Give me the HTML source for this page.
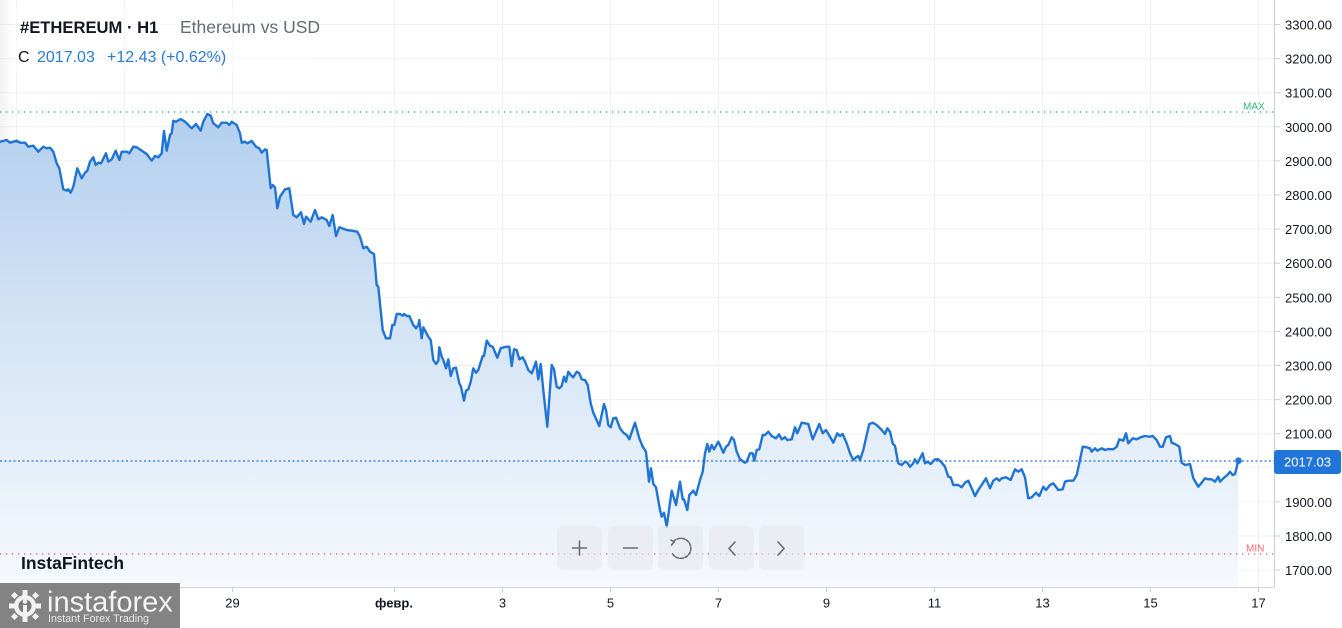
<!DOCTYPE html>
<html><head><meta charset="utf-8"><style>
html,body{margin:0;padding:0;background:#fff;}
svg{display:block;font-family:"Liberation Sans","DejaVu Sans",sans-serif;}
</style></head><body>
<svg width="1342" height="628" viewBox="0 0 1342 628" xmlns="http://www.w3.org/2000/svg">
<defs>
<linearGradient id="fg" x1="0" y1="114" x2="0" y2="587" gradientUnits="userSpaceOnUse">
<stop offset="0" stop-color="#b3cfee"/>
<stop offset="0.5" stop-color="#d7e6f6"/>
<stop offset="1" stop-color="#f6f9fd"/>
</linearGradient>
<linearGradient id="ls" x1="0" y1="0" x2="1" y2="0">
<stop offset="0" stop-color="#000" stop-opacity="0.05"/>
<stop offset="1" stop-color="#000" stop-opacity="0"/>
</linearGradient>
</defs>
<rect width="1342" height="628" fill="#fff"/>
<!-- horizontal grid -->
<g stroke="#eef0f4" stroke-width="1">
<line x1="0" x2="1274" y1="24.5" y2="24.5"/><line x1="0" x2="1274" y1="58.6" y2="58.6"/><line x1="0" x2="1274" y1="92.7" y2="92.7"/><line x1="0" x2="1274" y1="126.8" y2="126.8"/><line x1="0" x2="1274" y1="160.9" y2="160.9"/><line x1="0" x2="1274" y1="195" y2="195"/><line x1="0" x2="1274" y1="229.1" y2="229.1"/><line x1="0" x2="1274" y1="263.2" y2="263.2"/><line x1="0" x2="1274" y1="297.3" y2="297.3"/><line x1="0" x2="1274" y1="331.4" y2="331.4"/><line x1="0" x2="1274" y1="365.5" y2="365.5"/><line x1="0" x2="1274" y1="399.6" y2="399.6"/><line x1="0" x2="1274" y1="433.7" y2="433.7"/><line x1="0" x2="1274" y1="467.8" y2="467.8"/><line x1="0" x2="1274" y1="501.9" y2="501.9"/><line x1="0" x2="1274" y1="536" y2="536"/><line x1="0" x2="1274" y1="570.1" y2="570.1"/>
</g>
<!-- vertical grid -->
<g stroke="#eef0f4" stroke-width="1">
<line x1="16.5" x2="16.5" y1="0" y2="587"/><line x1="124.5" x2="124.5" y1="0" y2="587"/><line x1="232.5" x2="232.5" y1="0" y2="587"/><line x1="394.5" x2="394.5" y1="0" y2="587"/><line x1="502.5" x2="502.5" y1="0" y2="587"/><line x1="610.5" x2="610.5" y1="0" y2="587"/><line x1="718.5" x2="718.5" y1="0" y2="587"/><line x1="826.5" x2="826.5" y1="0" y2="587"/><line x1="934.5" x2="934.5" y1="0" y2="587"/><line x1="1042.5" x2="1042.5" y1="0" y2="587"/><line x1="1150.5" x2="1150.5" y1="0" y2="587"/><line x1="1258.5" x2="1258.5" y1="0" y2="587"/>
</g>
<rect x="0" y="0" width="14" height="587" fill="url(#ls)"/>
<!-- area fill -->
<path fill="url(#fg)" d="M0,141.7 L6.7,140 10,142.7 16.7,140.7 20,142.7 25,142.7 28.3,146.7 33.3,145.7 38.3,151.7 43.3,146.7 46.7,148.3 50,147.7 53.3,151.7 56.7,163.3 59.3,168.3 63.3,189.3 66.7,190.7 68.3,189.3 70.7,192.7 73.3,186.7 77.3,168.3 81.7,178.3 85,172.7 87.3,170.7 90,161.7 93.3,157.3 95.7,165 98.3,162.7 101,163.3 106,153.3 108.3,161.7 111.7,159.3 115.7,150.7 119.3,160 121.7,151.7 126.7,151.7 129.3,153.3 133.3,146.7 136.7,147.3 143.3,151.7 146.7,154 151.7,160.7 155,156 158.3,157.3 161.7,153.3 164,131 166.7,150.7 170,135 171.7,133.3 173.3,120.7 176,121.7 180.7,119 185,121.7 191.7,128.3 196,124 200.7,130.7 203.3,121.7 207.3,114 210.7,115.7 213.3,123.3 218.3,127.3 221.7,122.7 226.7,122.7 229.3,125 231.7,121.7 236.7,125 240,133.3 241.7,142.7 245,141.7 247.3,143.3 251.7,141 256,146.7 259.3,148.3 261.7,152.7 265,149.3 266.7,150 270.7,188.3 272.7,185 275,187.3 277.3,208.3 280,196.7 285,189.3 289.3,188.3 293.3,215 296.7,217.3 301,212.3 304,224 306,216.7 310.7,221.7 315,210 318.3,219.3 321.7,217.3 326.7,220 329.3,226 332.7,215 336,236 339.3,227.3 346.7,230 351.7,230.7 357.3,231.7 360,236.7 363.3,248.3 366.7,246.7 370,251.7 374,254 376.7,285 378.3,286.7 382.7,330 386,338.3 390,338.3 392.3,325 394.3,325 396.7,314 400,314 402.7,315.7 404,314 406.7,316 409.3,316 413.3,325 416,328.3 418.3,325 419.3,320 421.7,338.3 423.3,327.3 428.3,336.7 430.7,340 433.3,360 436,364 438.3,360.7 439.3,347.3 441.7,356.7 443.3,360 446,368.3 448.3,359.3 450.7,376 453.3,368.3 456,367.7 459.3,383.3 461,386.7 464,400.7 466,390.7 468.3,389.3 470.7,381.7 473.3,368.3 476,372.7 478.3,370 482.7,356 484,356 486.7,340.7 490,345.7 492.7,346.7 497.3,357.7 500.7,348.3 504,347.3 506.7,346.7 509.3,346.7 511.7,366 514,349.3 516.7,350 519.3,359.3 522.7,357.3 525,361.7 528.3,370 531.7,373.3 533.3,369.3 536,361.7 538.3,379.3 540.7,364 543.3,390 547.3,426.7 551.7,365 554,369.3 556.7,386.7 559.3,388.3 561.7,386 564,376.7 566,381.7 568.3,371.7 570.7,375 573.3,377.3 576.7,371.7 579.3,373.3 581.7,379.3 585,380 587.7,385 590.7,403.3 593.3,412.7 599.3,426 604,404 606,410 608.3,425 610.7,427.3 613.3,418.3 616,417.7 620,428.3 623.3,432.7 626.7,435 629.3,439.3 635,422.7 639.3,438.3 642.7,446.7 646,451.7 649,481.7 651,468.3 653.3,484 656,487.3 660,510 661.7,516.7 664,512.7 666.7,526.7 671.7,490.7 676,505 680,481.7 682.7,499.3 684,499.3 687.3,510 689.3,495 693.3,490.7 696,495 700,480 702.7,471.7 705,453.3 707.3,444 709.3,451.7 711.7,445 714,449.3 718.3,441.7 720.7,446.7 723.3,452.7 726,446.7 728.3,445 731.7,437.3 734,440 736.7,451.7 740,459.3 745,462.7 746.7,461.7 750,453.3 752.7,453.3 754.3,460.7 756.7,450 759.3,449.3 762.7,435 765,435 768.3,431.7 771.7,436 776,438.3 779,434.3 781.7,439.3 785,437.3 787.3,440 791.7,439.3 795,427.3 797.3,433.3 801.7,422.7 805,423.3 808.3,424 812.7,439.3 816,431.7 819.3,424 822.7,433.3 826,430 830,436.7 833.3,442.7 837.3,433.3 840,436 842.7,434 846.7,443.3 850,453.3 853.3,460 856,457.3 858.3,456 860,460 863.3,450 866.7,435 869.3,424 872.7,422.7 876.7,425 881.7,430 885,434 887.3,428.3 890,431.7 892.7,443.3 895,446 898.3,463.3 901.7,465 905,461.7 907.3,462.7 910,466.7 912.7,464 915,459.3 917.3,463.3 920,458.3 922.7,453.3 925,463.3 927.7,461.7 930.7,464 935,459.3 938.3,459.3 941.7,462.7 945,466.7 948.3,476.7 950.7,477.3 953.3,485 958.3,485 961.7,487.3 965,482.7 968.3,480.7 970.7,486 975,496 978.3,490 982.7,483.3 986,478.3 990,488.3 993.3,480.7 996.7,478.3 999.3,480.7 1001.7,478.3 1006,477.3 1010.7,480 1015,469.3 1018.3,471.7 1021.7,469.3 1025,477.3 1028.3,498.3 1031.7,497.3 1036,492.7 1039.3,496 1043.3,486.7 1046,490 1050,485 1053.3,483.3 1058.3,490 1062.7,489.3 1065,481.7 1068.3,480.7 1073.3,480.7 1076.7,475 1079.3,463.3 1082.7,446.7 1086.7,447.3 1090,448.3 1091.7,451.7 1095,448.3 1097.3,450.7 1101.7,448.3 1105,450 1108.3,449 1113.3,449.3 1116.7,446.7 1119.3,439.3 1123.3,440.7 1126,433.3 1128.3,443.3 1132.7,438.3 1136.7,439.3 1140.7,437.3 1145,436 1149.3,436.7 1152.7,436 1156.7,440 1160,446.7 1162.7,446.7 1166,437.3 1170,436 1171.7,442.7 1175,444 1179.3,446.7 1181.7,462.7 1185,465 1190,464 1193.3,478.3 1198.3,486.7 1201.7,482.7 1205,478.3 1208.3,479.3 1211.7,479.3 1215,481.7 1218.3,476.7 1220,481.7 1223.3,478.3 1227.3,475 1230,471.7 1232.7,475 1235,474 1238.3,460.7 L1238.3,587 L0,587 Z"/>
<!-- max/min/current lines -->
<line x1="0" x2="1274" y1="112" y2="112" stroke="#26b07a" stroke-width="1.3" stroke-dasharray="1.3 4.7"/>
<line x1="0" x2="1274" y1="554" y2="554" stroke="#f0505c" stroke-width="1.3" stroke-dasharray="1.3 4.7"/>
<line x1="0" x2="1274" y1="461" y2="461" stroke="#2176d8" stroke-width="1.3" stroke-dasharray="2 2.5"/>
<text x="1243" y="109.5" font-size="10" fill="#2eb67a">MAX</text>
<text x="1246" y="551.5" font-size="10" fill="#f26470">MIN</text>
<!-- line -->
<polyline fill="none" stroke="#1f74d4" stroke-width="2.4" stroke-linejoin="round" stroke-linecap="round" points="0,141.7 6.7,140 10,142.7 16.7,140.7 20,142.7 25,142.7 28.3,146.7 33.3,145.7 38.3,151.7 43.3,146.7 46.7,148.3 50,147.7 53.3,151.7 56.7,163.3 59.3,168.3 63.3,189.3 66.7,190.7 68.3,189.3 70.7,192.7 73.3,186.7 77.3,168.3 81.7,178.3 85,172.7 87.3,170.7 90,161.7 93.3,157.3 95.7,165 98.3,162.7 101,163.3 106,153.3 108.3,161.7 111.7,159.3 115.7,150.7 119.3,160 121.7,151.7 126.7,151.7 129.3,153.3 133.3,146.7 136.7,147.3 143.3,151.7 146.7,154 151.7,160.7 155,156 158.3,157.3 161.7,153.3 164,131 166.7,150.7 170,135 171.7,133.3 173.3,120.7 176,121.7 180.7,119 185,121.7 191.7,128.3 196,124 200.7,130.7 203.3,121.7 207.3,114 210.7,115.7 213.3,123.3 218.3,127.3 221.7,122.7 226.7,122.7 229.3,125 231.7,121.7 236.7,125 240,133.3 241.7,142.7 245,141.7 247.3,143.3 251.7,141 256,146.7 259.3,148.3 261.7,152.7 265,149.3 266.7,150 270.7,188.3 272.7,185 275,187.3 277.3,208.3 280,196.7 285,189.3 289.3,188.3 293.3,215 296.7,217.3 301,212.3 304,224 306,216.7 310.7,221.7 315,210 318.3,219.3 321.7,217.3 326.7,220 329.3,226 332.7,215 336,236 339.3,227.3 346.7,230 351.7,230.7 357.3,231.7 360,236.7 363.3,248.3 366.7,246.7 370,251.7 374,254 376.7,285 378.3,286.7 382.7,330 386,338.3 390,338.3 392.3,325 394.3,325 396.7,314 400,314 402.7,315.7 404,314 406.7,316 409.3,316 413.3,325 416,328.3 418.3,325 419.3,320 421.7,338.3 423.3,327.3 428.3,336.7 430.7,340 433.3,360 436,364 438.3,360.7 439.3,347.3 441.7,356.7 443.3,360 446,368.3 448.3,359.3 450.7,376 453.3,368.3 456,367.7 459.3,383.3 461,386.7 464,400.7 466,390.7 468.3,389.3 470.7,381.7 473.3,368.3 476,372.7 478.3,370 482.7,356 484,356 486.7,340.7 490,345.7 492.7,346.7 497.3,357.7 500.7,348.3 504,347.3 506.7,346.7 509.3,346.7 511.7,366 514,349.3 516.7,350 519.3,359.3 522.7,357.3 525,361.7 528.3,370 531.7,373.3 533.3,369.3 536,361.7 538.3,379.3 540.7,364 543.3,390 547.3,426.7 551.7,365 554,369.3 556.7,386.7 559.3,388.3 561.7,386 564,376.7 566,381.7 568.3,371.7 570.7,375 573.3,377.3 576.7,371.7 579.3,373.3 581.7,379.3 585,380 587.7,385 590.7,403.3 593.3,412.7 599.3,426 604,404 606,410 608.3,425 610.7,427.3 613.3,418.3 616,417.7 620,428.3 623.3,432.7 626.7,435 629.3,439.3 635,422.7 639.3,438.3 642.7,446.7 646,451.7 649,481.7 651,468.3 653.3,484 656,487.3 660,510 661.7,516.7 664,512.7 666.7,526.7 671.7,490.7 676,505 680,481.7 682.7,499.3 684,499.3 687.3,510 689.3,495 693.3,490.7 696,495 700,480 702.7,471.7 705,453.3 707.3,444 709.3,451.7 711.7,445 714,449.3 718.3,441.7 720.7,446.7 723.3,452.7 726,446.7 728.3,445 731.7,437.3 734,440 736.7,451.7 740,459.3 745,462.7 746.7,461.7 750,453.3 752.7,453.3 754.3,460.7 756.7,450 759.3,449.3 762.7,435 765,435 768.3,431.7 771.7,436 776,438.3 779,434.3 781.7,439.3 785,437.3 787.3,440 791.7,439.3 795,427.3 797.3,433.3 801.7,422.7 805,423.3 808.3,424 812.7,439.3 816,431.7 819.3,424 822.7,433.3 826,430 830,436.7 833.3,442.7 837.3,433.3 840,436 842.7,434 846.7,443.3 850,453.3 853.3,460 856,457.3 858.3,456 860,460 863.3,450 866.7,435 869.3,424 872.7,422.7 876.7,425 881.7,430 885,434 887.3,428.3 890,431.7 892.7,443.3 895,446 898.3,463.3 901.7,465 905,461.7 907.3,462.7 910,466.7 912.7,464 915,459.3 917.3,463.3 920,458.3 922.7,453.3 925,463.3 927.7,461.7 930.7,464 935,459.3 938.3,459.3 941.7,462.7 945,466.7 948.3,476.7 950.7,477.3 953.3,485 958.3,485 961.7,487.3 965,482.7 968.3,480.7 970.7,486 975,496 978.3,490 982.7,483.3 986,478.3 990,488.3 993.3,480.7 996.7,478.3 999.3,480.7 1001.7,478.3 1006,477.3 1010.7,480 1015,469.3 1018.3,471.7 1021.7,469.3 1025,477.3 1028.3,498.3 1031.7,497.3 1036,492.7 1039.3,496 1043.3,486.7 1046,490 1050,485 1053.3,483.3 1058.3,490 1062.7,489.3 1065,481.7 1068.3,480.7 1073.3,480.7 1076.7,475 1079.3,463.3 1082.7,446.7 1086.7,447.3 1090,448.3 1091.7,451.7 1095,448.3 1097.3,450.7 1101.7,448.3 1105,450 1108.3,449 1113.3,449.3 1116.7,446.7 1119.3,439.3 1123.3,440.7 1126,433.3 1128.3,443.3 1132.7,438.3 1136.7,439.3 1140.7,437.3 1145,436 1149.3,436.7 1152.7,436 1156.7,440 1160,446.7 1162.7,446.7 1166,437.3 1170,436 1171.7,442.7 1175,444 1179.3,446.7 1181.7,462.7 1185,465 1190,464 1193.3,478.3 1198.3,486.7 1201.7,482.7 1205,478.3 1208.3,479.3 1211.7,479.3 1215,481.7 1218.3,476.7 1220,481.7 1223.3,478.3 1227.3,475 1230,471.7 1232.7,475 1235,474 1238.3,460.7"/>
<circle cx="1238.5" cy="460.7" r="3.3" fill="#1f74d4"/>
<!-- axes -->
<line x1="1274.5" x2="1274.5" y1="0" y2="587" stroke="#c9ced6" stroke-width="1"/>
<line x1="0" x2="1274.5" y1="587.5" y2="587.5" stroke="#d3d7de" stroke-width="1"/>
<g stroke="#c9ced6" stroke-width="1">
<line x1="1274" x2="1280" y1="24.5" y2="24.5"/><line x1="1274" x2="1280" y1="58.6" y2="58.6"/><line x1="1274" x2="1280" y1="92.7" y2="92.7"/><line x1="1274" x2="1280" y1="126.8" y2="126.8"/><line x1="1274" x2="1280" y1="160.9" y2="160.9"/><line x1="1274" x2="1280" y1="195" y2="195"/><line x1="1274" x2="1280" y1="229.1" y2="229.1"/><line x1="1274" x2="1280" y1="263.2" y2="263.2"/><line x1="1274" x2="1280" y1="297.3" y2="297.3"/><line x1="1274" x2="1280" y1="331.4" y2="331.4"/><line x1="1274" x2="1280" y1="365.5" y2="365.5"/><line x1="1274" x2="1280" y1="399.6" y2="399.6"/><line x1="1274" x2="1280" y1="433.7" y2="433.7"/><line x1="1274" x2="1280" y1="467.8" y2="467.8"/><line x1="1274" x2="1280" y1="501.9" y2="501.9"/><line x1="1274" x2="1280" y1="536" y2="536"/><line x1="1274" x2="1280" y1="570.1" y2="570.1"/>
<line x1="16.5" x2="16.5" y1="587" y2="592"/><line x1="124.5" x2="124.5" y1="587" y2="592"/><line x1="232.5" x2="232.5" y1="587" y2="592"/><line x1="394.5" x2="394.5" y1="587" y2="592"/><line x1="502.5" x2="502.5" y1="587" y2="592"/><line x1="610.5" x2="610.5" y1="587" y2="592"/><line x1="718.5" x2="718.5" y1="587" y2="592"/><line x1="826.5" x2="826.5" y1="587" y2="592"/><line x1="934.5" x2="934.5" y1="587" y2="592"/><line x1="1042.5" x2="1042.5" y1="587" y2="592"/><line x1="1150.5" x2="1150.5" y1="587" y2="592"/><line x1="1258.5" x2="1258.5" y1="587" y2="592"/>
</g>
<g font-size="13" fill="#131722">
<text x="1285" y="29.5">3300.00</text><text x="1285" y="63.6">3200.00</text><text x="1285" y="97.7">3100.00</text><text x="1285" y="131.8">3000.00</text><text x="1285" y="165.9">2900.00</text><text x="1285" y="200">2800.00</text><text x="1285" y="234.1">2700.00</text><text x="1285" y="268.2">2600.00</text><text x="1285" y="302.3">2500.00</text><text x="1285" y="336.4">2400.00</text><text x="1285" y="370.5">2300.00</text><text x="1285" y="404.6">2200.00</text><text x="1285" y="438.7">2100.00</text><text x="1285" y="506.9">1900.00</text><text x="1285" y="541">1800.00</text><text x="1285" y="575.1">1700.00</text>
</g>
<rect x="1274" y="450" width="67" height="24" rx="3" fill="#2175d9"/>
<text x="1307.5" y="466.5" font-size="13" fill="#fff" text-anchor="middle">2017.03</text>
<!-- x labels -->
<g font-size="13" fill="#131722" text-anchor="middle">
<text x="16.5" y="607.5">25</text><text x="124.5" y="607.5">27</text><text x="232.5" y="607.5">29</text>
<text x="394" y="607.5" font-weight="bold">февр.</text>
<text x="502.5" y="607.5">3</text><text x="610.5" y="607.5">5</text><text x="718.5" y="607.5">7</text><text x="826.5" y="607.5">9</text><text x="934.5" y="607.5">11</text><text x="1042.5" y="607.5">13</text><text x="1150.5" y="607.5">15</text><text x="1258.5" y="607.5">17</text>
</g>
<!-- header -->
<rect x="14" y="8" width="296" height="64" fill="#fff" opacity="0.55"/>
<text x="20" y="33" font-size="16.6" font-weight="bold" fill="#131722">#ETHEREUM · H1</text>
<text x="180" y="33" font-size="17.5" fill="#666a73">Ethereum vs USD</text>
<text x="18" y="62" font-size="16" fill="#131722">C</text>
<text x="37" y="62" font-size="16" fill="#2a7ad4">2017.03</text>
<text x="107" y="62" font-size="16" fill="#2a7ad4">+12.43 (+0.62%)</text>
<!-- buttons -->
<g fill="#e6e8ec" opacity="0.6">
<rect x="557" y="526" width="45" height="44" rx="6"/><rect x="608" y="526" width="45" height="44" rx="6"/><rect x="658" y="526" width="45" height="44" rx="6"/><rect x="709" y="526" width="45" height="44" rx="6"/><rect x="759" y="526" width="45" height="44" rx="6"/>
</g>
<g stroke="#6a6d73" stroke-width="1.6" fill="none" stroke-linecap="round">
<line x1="572.5" x2="586.5" y1="548" y2="548"/><line x1="579.5" x2="579.5" y1="541" y2="555"/>
<line x1="623.5" x2="637.5" y1="548" y2="548"/>
<path d="M673.5,541.5 A10,10 0 1 1 672,553" stroke-dasharray="3 1.6"/>
<path d="M671,540 L674,542 L671.5,545"/>
<path d="M735,542 L729,548.5 L735,555"/>
<path d="M778,542 L784,548.5 L778,555"/>
</g>
<!-- brand -->
<text x="21" y="569" font-size="17.5" font-weight="bold" fill="#131722">InstaFintech</text>
<rect x="0" y="583" width="180" height="45" fill="#7a7a7a" opacity="0.93"/>
<g fill="#f2f2f2">
<circle cx="25" cy="606" r="11"/>
<rect x="22.5" y="590" width="5" height="6"/><rect x="22.5" y="616" width="5" height="6"/>
<rect x="9" y="603.5" width="6" height="5"/><rect x="35" y="603.5" width="6" height="5"/>
<rect x="12" y="593" width="5" height="5" transform="rotate(45 14.5 595.5)"/><rect x="33" y="593" width="5" height="5" transform="rotate(45 35.5 595.5)"/>
<rect x="12" y="614" width="5" height="5" transform="rotate(45 14.5 616.5)"/><rect x="33" y="614" width="5" height="5" transform="rotate(45 35.5 616.5)"/>
</g>
<circle cx="25" cy="606" r="6.5" fill="#7a7a7a"/>
<circle cx="25" cy="601.5" r="2.3" fill="#f2f2f2"/>
<rect x="23" y="605" width="4" height="10" fill="#f2f2f2"/>
<text x="47" y="611.5" font-size="29" fill="#f4f4f4">instaforex</text>
<text x="48" y="622" font-size="10.7" fill="#e8e8e8">Instant Forex Trading</text>
</svg>
</body></html>
